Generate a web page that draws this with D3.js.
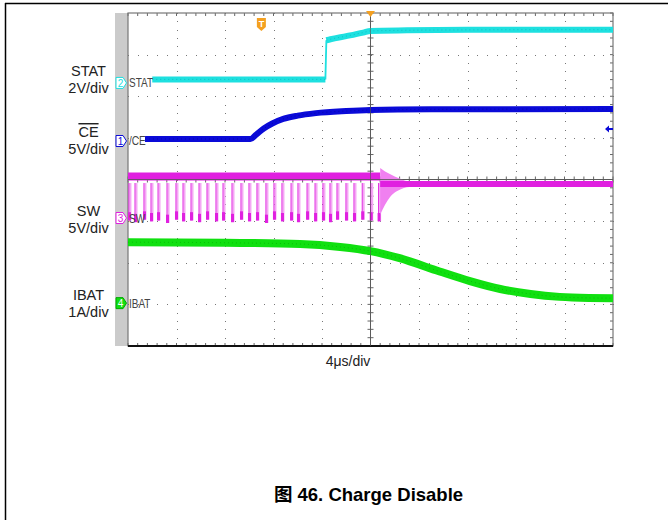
<!DOCTYPE html>
<html>
<head>
<meta charset="utf-8">
<script src="https://cdn.jsdelivr.net/npm/d3@7"></script>
<style>
  html, body { margin: 0; padding: 0; background: #fff; }
  svg { display: block; }
  text { font-family: "Liberation Sans", Arial, "Noto Sans CJK SC", sans-serif; }
</style>
</head>
<body>
<script>
// Time axis, microseconds (4 us/div, 10 divisions).
const TIME_DOMAIN = [-20, 20];

// Channels: label, scale, ground marker offset (divisions from centre).
const CH_NAMES = ["STAT", "CE", "SW", "IBAT"];
const CH_UNITS = ["2V/div", "5V/div", "5V/div", "1A/div"];
const CH_PER_DIV = [2, 5, 5, 1];
const CH_OFFSET = [2.32, 0.925, -0.925, -2.97];
const CH_NUM = ["2", "1", "3", "4"];
const CH_TAG = ["STAT", "/CE", "SW", "IBAT"];

// STAT trace (V): low level, step edge, high level.
const STAT_LOW_T = [-18.0, -3.72];
const STAT_LOW_V = [0.17, 0.17];
const STAT_HIGH_T = [-3.64, -3.3, -2.0, -0.6, 0, 3, 8, 14, 20];
const STAT_HIGH_V = [2.05, 2.1, 2.25, 2.42, 2.5, 2.53, 2.55, 2.56, 2.56];

// CE trace (V).
const CE_T = [-18.6, -9.9, -9.4, -8.8, -8.1, -7.2, -6.0, -4.5, -2.0, 0, 5, 20];
const CE_V = [0.24, 0.24, 0.8, 1.5, 2.1, 2.65, 3.05, 3.35, 3.6, 3.72, 3.8, 3.84];

// SW switching pulses (us) and levels (V).
const SW_PULSES = [-19.84, -19.34, -18.6, -18.02, -17.44, -16.7, -15.96, -15.38,
  -14.72, -14.06, -13.4, -12.66, -12.08, -11.34, -10.6, -9.94, -9.28, -8.54,
  -7.88, -7.22, -6.47, -5.9, -5.15, -4.49, -3.84, -3.26, -2.68, -1.94, -1.28,
  -0.6, 0.1, 0.75];
const SW_PULSE_LOW = [-0.3, -0.5, -0.2, -0.4, -0.3, -0.6, -0.2, -0.4, -0.3, -0.5,
  -0.2, -0.4, -0.3, -0.5, -0.2, -0.4, -0.3, -0.6, -0.2, -0.4, -0.3, -0.5,
  -0.2, -0.4, -0.3, -0.5, -0.2, -0.3, -0.4, -0.2, -0.3, -0.4];
const SW_HIGH = 5.0;
const SW_SETTLED = 4.08;
const SW_RING_T = [0.8, 1.2, 1.6, 2.0, 2.5, 3.0, 3.5];
const SW_RING_HI = [6.0, 5.6, 5.3, 5.0, 4.7, 4.45, 4.4];
const SW_RING_LO = [0.4, 1.6, 2.5, 3.05, 3.45, 3.7, 3.75];

// IBAT trace (A).
const IBAT_T = [-20, -12, -5.8, -2.5, 0, 2.4, 5.7, 8.2, 10.7, 13.2, 15.6, 18, 20];
const IBAT_V = [1.465, 1.45, 1.42, 1.35, 1.25, 1.08, 0.76, 0.53, 0.34, 0.22, 0.15, 0.125, 0.12];

const COLORS = ["#1ee0e0", "#0a0ad8", "#e020e0", "#10e010"];
const DARK = ["#00aaaa", "#00008a", "#a000a0", "#00a800"];

const width = 668;
const height = 521;
const plot = { left: 128, right: 613, top: 13, bottom: 346 };

const svg = d3.select("body")
  .append("svg")
    .attr("width", width)
    .attr("height", height);

// Outer page frame.
svg.append("line")
    .attr("x1", 5).attr("x2", width).attr("y1", 3.5).attr("y2", 3.5)
    .attr("stroke", "#000").attr("stroke-width", 1.5);
svg.append("line")
    .attr("x1", 5.5).attr("x2", 5.5).attr("y1", 3).attr("y2", 520)
    .attr("stroke", "#000").attr("stroke-width", 1.5);

const x = d3.scaleLinear().domain(TIME_DOMAIN).range([plot.left, plot.right]);
const yDiv = d3.scaleLinear().domain([-4, 4]).range([plot.bottom, plot.top]);
const yCh = (i, v) => yDiv(CH_OFFSET[i] + v / CH_PER_DIV[i]);

// Grey strip left of the screen.
svg.append("rect")
    .attr("x", 115).attr("y", plot.top)
    .attr("width", plot.left - 115).attr("height", plot.bottom - plot.top)
    .attr("fill", "#cbcbcb");

const grid = svg.append("g");
const xDivs = d3.range(-20, 20.01, 4);
const yDivs = d3.range(-4, 4.01, 1);
const xMinor = d3.range(-20, 20.01, 0.8);
const yMinor = d3.range(-4, 4.01, 0.2);

// Dotted division lines.
xDivs.filter(d => d !== 0 && Math.abs(d) !== 20).forEach(d => {
  grid.selectAll(null)
    .data(yMinor)
    .enter()
    .append("rect")
      .attr("x", Math.round(x(d)))
      .attr("y", v => Math.round(yDiv(v)))
      .attr("width", 1).attr("height", 1)
      .attr("fill", "#777");
});
yDivs.filter(d => d !== 0 && Math.abs(d) !== 4).forEach(d => {
  grid.selectAll(null)
    .data(xMinor)
    .enter()
    .append("rect")
      .attr("x", t => Math.round(x(t)))
      .attr("y", Math.round(yDiv(d)))
      .attr("width", 1).attr("height", 1)
      .attr("fill", "#777");
});

// Centre cross with minor ticks.
grid.append("line")
    .attr("x1", x(0)).attr("x2", x(0)).attr("y1", plot.top).attr("y2", plot.bottom)
    .attr("stroke", "#666").attr("stroke-width", 1);
grid.append("line")
    .attr("x1", plot.left).attr("x2", plot.right).attr("y1", yDiv(0)).attr("y2", yDiv(0))
    .attr("stroke", "#666").attr("stroke-width", 1);
grid.selectAll(null)
  .data(yMinor)
  .enter()
  .append("line")
    .attr("x1", x(0) - 3).attr("x2", x(0) + 3)
    .attr("y1", v => yDiv(v)).attr("y2", v => yDiv(v))
    .attr("stroke", "#666");
grid.selectAll(null)
  .data(xMinor)
  .enter()
  .append("line")
    .attr("x1", t => x(t)).attr("x2", t => x(t))
    .attr("y1", yDiv(0) - 3).attr("y2", yDiv(0) + 3)
    .attr("stroke", "#666");

// Border ticks.
grid.selectAll(null)
  .data(xMinor)
  .enter()
  .append("line")
    .attr("x1", t => x(t)).attr("x2", t => x(t))
    .attr("y1", plot.top).attr("y2", plot.top + 3)
    .attr("stroke", "#666");
grid.selectAll(null)
  .data(xMinor)
  .enter()
  .append("line")
    .attr("x1", t => x(t)).attr("x2", t => x(t))
    .attr("y1", plot.bottom - 3).attr("y2", plot.bottom)
    .attr("stroke", "#666");
grid.selectAll(null)
  .data(yMinor)
  .enter()
  .append("line")
    .attr("x1", plot.right - 3).attr("x2", plot.right)
    .attr("y1", v => yDiv(v)).attr("y2", v => yDiv(v))
    .attr("stroke", "#666");

// Screen border.
grid.append("rect")
    .attr("x", plot.left).attr("y", plot.top)
    .attr("width", plot.right - plot.left).attr("height", plot.bottom - plot.top)
    .attr("fill", "none").attr("stroke", "#777").attr("stroke-width", 1.2);
grid.append("line")
    .attr("x1", plot.left).attr("x2", plot.right)
    .attr("y1", plot.bottom).attr("y2", plot.bottom)
    .attr("stroke", "#111").attr("stroke-width", 2);

const traces = svg.append("g");
const line = d3.line().curve(d3.curveMonotoneX);

function drawTrace(i, ts, vs, w) {
  const pts = ts.map((t, k) => [x(t), yCh(i, vs[k])]);
  traces.append("path")
      .attr("d", line(pts))
      .attr("fill", "none")
      .attr("stroke", COLORS[i])
      .attr("stroke-width", w);
  traces.append("path")
      .attr("d", line(pts))
      .attr("fill", "none")
      .attr("stroke", DARK[i])
      .attr("stroke-width", 0.8)
      .attr("stroke-dasharray", "1 3")
      .attr("opacity", 0.7);
}

// STAT: thin step edge between the two thick levels.
traces.append("line")
    .attr("x1", x(STAT_LOW_T[1])).attr("x2", x(STAT_HIGH_T[0]))
    .attr("y1", yCh(0, STAT_LOW_V[1])).attr("y2", yCh(0, STAT_HIGH_V[0]))
    .attr("stroke", COLORS[0]).attr("stroke-width", 1.8);
drawTrace(0, STAT_LOW_T, STAT_LOW_V, 6);
drawTrace(0, STAT_HIGH_T, STAT_HIGH_V, 6);
drawTrace(1, CE_T, CE_V, 6);

// SW switching section.
const swEnd = SW_RING_T[0];
traces.append("line")
    .attr("x1", x(-20)).attr("x2", x(swEnd))
    .attr("y1", yCh(2, SW_HIGH)).attr("y2", yCh(2, SW_HIGH))
    .attr("stroke", COLORS[2]).attr("stroke-width", 8);
const pulses = traces.selectAll(null)
  .data(SW_PULSES.map((t, k) => [t, SW_PULSE_LOW[k]]))
  .enter()
  .append("g");
pulses.append("line")
    .attr("x1", d => x(d[0]) + 0.5).attr("x2", d => x(d[0]) + 0.5)
    .attr("y1", yCh(2, SW_HIGH - 0.8)).attr("y2", d => yCh(2, d[1]))
    .attr("stroke", "#f4a8f4").attr("stroke-width", 2);
pulses.append("line")
    .attr("x1", d => x(d[0]) - 1).attr("x2", d => x(d[0]) - 1)
    .attr("y1", yCh(2, SW_HIGH - 0.8)).attr("y2", d => yCh(2, d[1]))
    .attr("stroke", COLORS[2]).attr("stroke-width", 1);
pulses.append("rect")
    .attr("x", d => x(d[0]) - 2)
    .attr("y", d => yCh(2, d[1] + 1.0))
    .attr("width", 3)
    .attr("height", d => yCh(2, d[1]) - yCh(2, d[1] + 1.0))
    .attr("fill", COLORS[2]);

// Ringing after switching stops, then the settled level.
const ring = SW_RING_T.map((t, k) => [t, SW_RING_HI[k], SW_RING_LO[k]]);
traces.append("path")
    .attr("d", d3.area()
      .curve(d3.curveMonotoneX)
      .x(d => x(d[0]))
      .y0(d => yCh(2, d[2]))
      .y1(d => yCh(2, d[1]))(ring))
    .attr("fill", "#f080f0");
traces.append("line")
    .attr("x1", x(SW_RING_T[0])).attr("x2", x(20))
    .attr("y1", yCh(2, SW_SETTLED)).attr("y2", yCh(2, SW_SETTLED))
    .attr("stroke", COLORS[2]).attr("stroke-width", 6);

drawTrace(3, IBAT_T, IBAT_V, 8);

// Centre lines drawn over traces (scope overlays graticule).
svg.append("line")
    .attr("x1", plot.left).attr("x2", plot.right).attr("y1", yDiv(0)).attr("y2", yDiv(0))
    .attr("stroke", "#555").attr("stroke-width", 1).attr("opacity", 0.8);
svg.append("line")
    .attr("x1", x(0)).attr("x2", x(0)).attr("y1", plot.top).attr("y2", plot.bottom)
    .attr("stroke", "#555").attr("stroke-width", 1).attr("opacity", 0.6);

// Channel markers and in-screen tags.
const markers = svg.append("g");
CH_NAMES.forEach((name, i) => {
  const yc = yCh(i, 0);
  const filled = i === 3;
  markers.append("path")
      .attr("d", `M116,${yc - 5.5} h7 l3.5,5.5 l-3.5,5.5 h-7 z`)
      .attr("fill", filled ? COLORS[i] : "#fff")
      .attr("stroke", filled ? DARK[i] : COLORS[i])
      .attr("stroke-width", 1);
  markers.append("text")
      .attr("x", 120.5).attr("y", yc + 4)
      .attr("text-anchor", "middle")
      .attr("font-size", 10)
      .attr("fill", filled ? "#fff" : COLORS[i])
      .text(CH_NUM[i]);
  markers.append("text")
      .attr("x", 129).attr("y", yc + 4.5)
      .attr("font-size", 12.5)
      .attr("fill", "#444")
      .attr("transform", `translate(${129 * 0.2},0) scale(0.8,1)`)
      .text(CH_TAG[i]);
});

// Trigger markers.
const tx = x(-9.0);
svg.append("path")
    .attr("d", `M${tx - 4.5},18 h9 v9 l-4.5,4 l-4.5,-4 z`)
    .attr("fill", "#f4a020");
svg.append("text")
    .attr("x", tx).attr("y", 26.5)
    .attr("text-anchor", "middle")
    .attr("font-size", 9).attr("font-weight", "bold")
    .attr("fill", "#fff")
    .text("T");
svg.append("path")
    .attr("d", `M${x(0) - 4.5},11 h9 l-4.5,6 z`)
    .attr("fill", "#f4a020");

// Trigger level arrow.
const ay = yCh(1, 1.45);
svg.append("path")
    .attr("d", `M${plot.right - 8},${ay} l4,-3.5 v2.5 h4 v2 h-4 v2.5 z`)
    .attr("fill", COLORS[1]);

// Left labels.
const labels = svg.append("g")
    .attr("font-size", 14.5)
    .attr("fill", "#222")
    .attr("text-anchor", "middle");
const labelY = [[76, 92.5], [137, 153.5], [216, 233], [299.5, 316.5]];
CH_NAMES.forEach((name, i) => {
  const t = labels.append("text")
      .attr("x", 88.5).attr("y", labelY[i][0])
      .text(name);
  if (name === "CE") t.attr("text-decoration", "overline");
  labels.append("text")
      .attr("x", 88.5).attr("y", labelY[i][1])
      .text(CH_UNITS[i]);
});

svg.append("text")
    .attr("x", 348).attr("y", 366)
    .attr("text-anchor", "middle")
    .attr("font-size", 14)
    .attr("fill", "#222")
    .text("4\u03bcs/div");

svg.append("text")
    .attr("x", 368.5).attr("y", 501)
    .attr("text-anchor", "middle")
    .attr("font-size", 18.5)
    .attr("font-weight", "bold")
    .attr("fill", "#000")
    .text("图 46. Charge Disable");
</script>
</body>
</html>
